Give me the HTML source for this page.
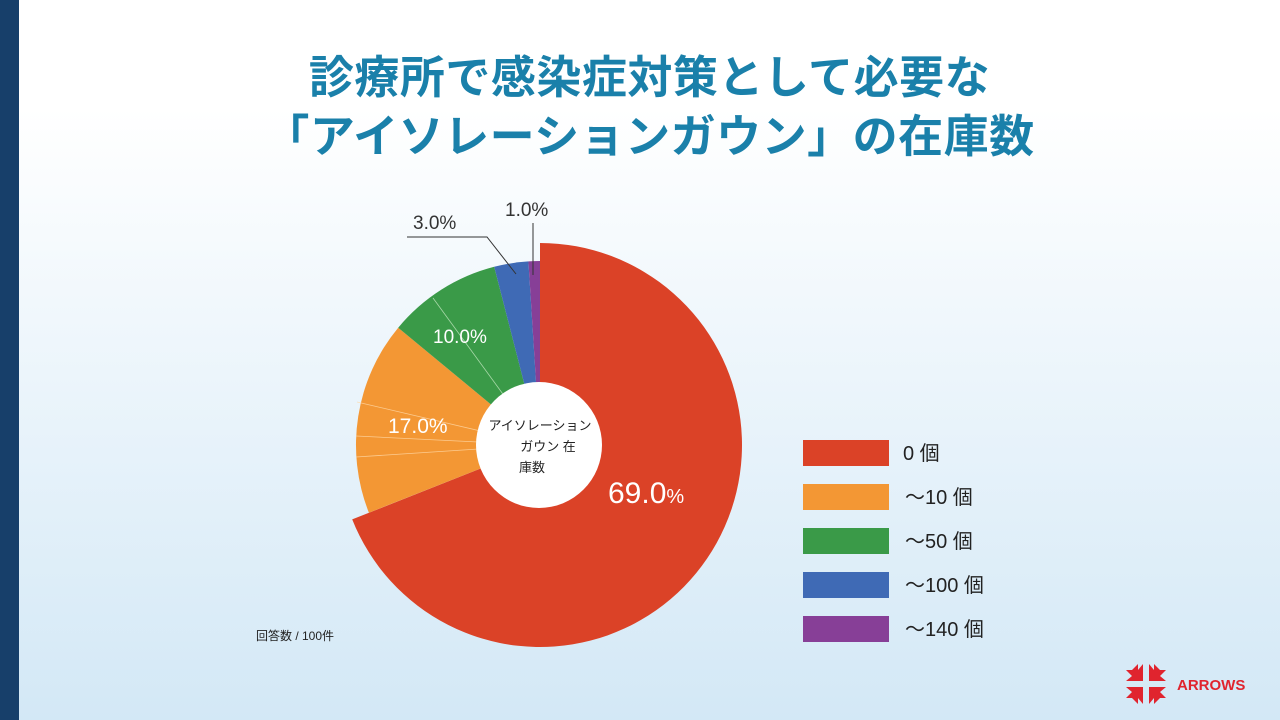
<!DOCTYPE html>
<html><head><meta charset="utf-8"><style>
body{margin:0;width:1280px;height:720px;overflow:hidden;font-family:"Liberation Sans","Noto Sans CJK JP",sans-serif;}
.bg{position:absolute;left:0;top:0;width:1280px;height:720px;background:linear-gradient(#ffffff 0%,#ffffff 15%,#d3e8f6 100%);}
.bar{position:absolute;left:0;top:0;width:19px;height:720px;background:#173f6a;}
.t{position:absolute;left:19px;width:1261px;text-align:center;color:#1a80aa;font-size:45px;font-weight:bold;letter-spacing:0.5px;line-height:1;}
</style></head><body>
<div class="bg"></div><div class="bar"></div>
<div class="t" style="top:55px">診療所で感染症対策として必要な</div>
<div class="t" style="top:114px">「アイソレーションガウン」の在庫数</div>
<svg width="1280" height="720" style="position:absolute;left:0;top:0" font-family="Liberation Sans, Noto Sans CJK JP, sans-serif">
<path d="M540,445 L540,243 A202,202 0 1 1 352.2,519.4 Z" fill="#db4227"/>
<path d="M540,445 L368.9,512.7 A184,184 0 0 1 398.2,327.7 Z" fill="#f39734"/>
<path d="M540,445 L398.2,327.7 A184,184 0 0 1 494.2,266.8 Z" fill="#3a9a48"/>
<path d="M540,445 L494.2,266.8 A184,184 0 0 1 528.4,261.4 Z" fill="#3f6ab5"/>
<path d="M540,445 L528.4,261.4 A184,184 0 0 1 540,261 Z" fill="#873f97"/>
<g stroke="#ffd9a8" stroke-width="0.8" opacity="0.8">
<line x1="540" y1="445" x2="357" y2="402"/><line x1="540" y1="445" x2="356" y2="436"/><line x1="540" y1="445" x2="356" y2="457"/>
</g>
<g stroke="#a8d8a8" stroke-width="0.8"><line x1="540" y1="445" x2="433" y2="298"/></g>
<circle cx="539" cy="445" r="63" fill="#fff"/>
<text x="540" y="430" font-size="13" text-anchor="middle" fill="#222">アイソレーション</text>
<text x="548" y="451" font-size="13" text-anchor="middle" fill="#222">ガウン 在</text>
<text x="532" y="472" font-size="13" text-anchor="middle" fill="#222">庫数</text>
<text x="608" y="503" font-size="30" fill="#fff">69.0<tspan font-size="20">%</tspan></text>
<text x="388" y="433" font-size="21" fill="#fff">17.0%</text>
<text x="433" y="343" font-size="19" fill="#fff">10.0%</text>
<text x="413" y="229" font-size="19" fill="#333">3.0%</text>
<text x="505" y="216" font-size="19" fill="#333">1.0%</text>
<polyline points="407,237 487,237 516,274" fill="none" stroke="#333" stroke-width="1"/>
<line x1="533" y1="223" x2="533" y2="275" stroke="#333" stroke-width="1"/>
<text x="256" y="640" font-size="12" fill="#222">回答数 / 100件</text>
<rect x="803" y="440" width="86" height="26" fill="#db4227"/>
<rect x="803" y="484" width="86" height="26" fill="#f39734"/>
<rect x="803" y="528" width="86" height="26" fill="#3a9a48"/>
<rect x="803" y="572" width="86" height="26" fill="#3f6ab5"/>
<rect x="803" y="616" width="86" height="26" fill="#873f97"/>
<g font-size="20" fill="#222">
<text x="903" y="460">0 個</text>
<text x="905" y="504">～10 個</text>
<text x="905" y="548">～50 個</text>
<text x="905" y="592">～100 個</text>
<text x="905" y="636">～140 個</text>
</g>
<g fill="#e0242e" transform="translate(1146,684)">
<path d="M-3,-3 L-20,-3 L-14,-8 L-20,-14 L-14,-14 L-8,-20 L-8,-14 L-3,-20 Z"/>
<path d="M3,-3 L20,-3 L14,-8 L20,-14 L14,-14 L8,-20 L8,-14 L3,-20 Z"/>
<path d="M-3,3 L-20,3 L-14,8 L-20,14 L-14,14 L-8,20 L-8,14 L-3,20 Z"/>
<path d="M3,3 L20,3 L14,8 L20,14 L14,14 L8,20 L8,14 L3,20 Z"/>
</g>
<text x="1177" y="690" font-size="15" font-weight="bold" fill="#e0242e">ARROWS</text>
</svg>
</body></html>
